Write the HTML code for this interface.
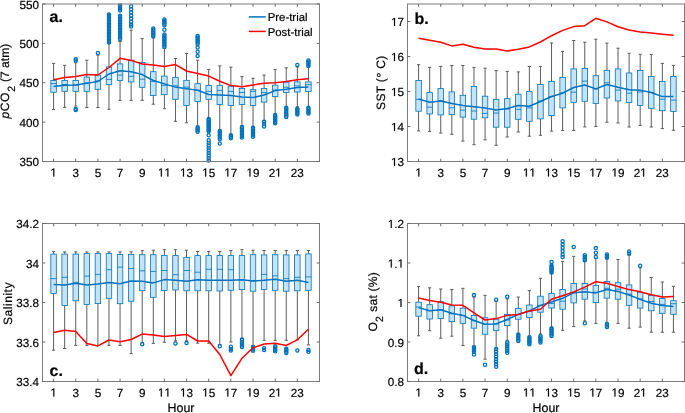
<!DOCTYPE html>
<html><head><meta charset="utf-8"><style>
html,body{margin:0;padding:0;background:#fff;}
svg{display:block;will-change:transform;}
svg{font-family:"Liberation Sans", sans-serif;font-size:11.7px;text-rendering:geometricPrecision;}
text{stroke:#000;stroke-width:0.2px;}
</style></head><body>
<svg width="685" height="413" viewBox="0 0 685 413">
<path d="M53.58 63.4V80.4M53.58 92.3V109.6M51.98 63.4H55.18M51.98 109.6H55.18M64.66 65.3V80.4M64.66 91.3V107.4M63.06 65.3H66.26M63.06 107.4H66.26M75.74 62.7V80.4M75.74 91.3V106M74.14 62.7H77.34M74.14 106H77.34M86.82 60.2V77.1M86.82 91.3V107.5M85.22 60.2H88.42M85.22 107.5H88.42M97.9 55V75.1M97.9 89.3V107.5M96.3 55H99.5M96.3 107.5H99.5M108.98 43V66.9M108.98 84.5V109.3M107.38 43H110.58M107.38 109.3H110.58M120.06 41.5V63.9M120.06 80.5V100.3M118.46 41.5H121.66M118.46 100.3H121.66M131.14 30.2V60.2M131.14 81.9V100.3M129.54 30.2H132.74M129.54 100.3H132.74M142.22 38.6V62.4M142.22 87.3V100.3M140.62 38.6H143.82M140.62 100.3H143.82M153.3 37.6V71.7M153.3 95.4V104.2M151.7 37.6H154.9M151.7 104.2H154.9M164.38 48.3V76.1M164.38 94.7V108.7M162.78 48.3H165.98M162.78 108.7H165.98M175.46 58.5V77.3M175.46 99.3V121.3M173.86 58.5H177.06M173.86 121.3H177.06M186.54 53.4V80.3M186.54 105.4V122.8M184.94 53.4H188.14M184.94 122.8H188.14M197.62 60.2V83.7M197.62 101.5V126.3M196.02 60.2H199.22M196.02 126.3H199.22M208.7 69.4V85.4M208.7 99.3V118M207.1 69.4H210.3M207.1 118H210.3M219.78 65.9V85.4M219.78 104.4V130M218.18 65.9H221.38M218.18 130H221.38M230.86 67.1V86.3M230.86 105.4V134.5M229.26 67.1H232.46M229.26 134.5H232.46M241.94 76.6V88.5M241.94 104.4V126.3M240.34 76.6H243.54M240.34 126.3H243.54M253.02 78.3V89.7M253.02 105.4V127M251.42 78.3H254.62M251.42 127H254.62M264.1 75V88.5M264.1 102.1V121M262.5 75H265.7M262.5 121H265.7M275.18 69.6V85.2M275.18 96.5V114.3M273.58 69.6H276.78M273.58 114.3H276.78M286.26 67.8V82.2M286.26 92.4V106.8M284.66 67.8H287.86M284.66 106.8H287.86M297.34 66.9V81.9M297.34 92V106.8M295.74 66.9H298.94M295.74 106.8H298.94M308.42 66.9V81.9M308.42 91.5V106.8M306.82 66.9H310.02M306.82 106.8H310.02" stroke="#5c5c5c" stroke-width="1" fill="none"/>
<rect x="50.83" y="80.4" width="5.5" height="11.9" fill="#C6E2F5" stroke="#0072BD" stroke-width="0.8"/>
<rect x="61.91" y="80.4" width="5.5" height="10.9" fill="#C6E2F5" stroke="#0072BD" stroke-width="0.8"/>
<rect x="72.99" y="80.4" width="5.5" height="10.9" fill="#C6E2F5" stroke="#0072BD" stroke-width="0.8"/>
<rect x="84.07" y="77.1" width="5.5" height="14.2" fill="#C6E2F5" stroke="#0072BD" stroke-width="0.8"/>
<rect x="95.15" y="75.1" width="5.5" height="14.2" fill="#C6E2F5" stroke="#0072BD" stroke-width="0.8"/>
<rect x="106.23" y="66.9" width="5.5" height="17.6" fill="#C6E2F5" stroke="#0072BD" stroke-width="0.8"/>
<rect x="117.31" y="63.9" width="5.5" height="16.6" fill="#C6E2F5" stroke="#0072BD" stroke-width="0.8"/>
<rect x="128.39" y="60.2" width="5.5" height="21.7" fill="#C6E2F5" stroke="#0072BD" stroke-width="0.8"/>
<rect x="139.47" y="62.4" width="5.5" height="24.9" fill="#C6E2F5" stroke="#0072BD" stroke-width="0.8"/>
<rect x="150.55" y="71.7" width="5.5" height="23.7" fill="#C6E2F5" stroke="#0072BD" stroke-width="0.8"/>
<rect x="161.63" y="76.1" width="5.5" height="18.6" fill="#C6E2F5" stroke="#0072BD" stroke-width="0.8"/>
<rect x="172.71" y="77.3" width="5.5" height="22" fill="#C6E2F5" stroke="#0072BD" stroke-width="0.8"/>
<rect x="183.79" y="80.3" width="5.5" height="25.1" fill="#C6E2F5" stroke="#0072BD" stroke-width="0.8"/>
<rect x="194.87" y="83.7" width="5.5" height="17.8" fill="#C6E2F5" stroke="#0072BD" stroke-width="0.8"/>
<rect x="205.95" y="85.4" width="5.5" height="13.9" fill="#C6E2F5" stroke="#0072BD" stroke-width="0.8"/>
<rect x="217.03" y="85.4" width="5.5" height="19" fill="#C6E2F5" stroke="#0072BD" stroke-width="0.8"/>
<rect x="228.11" y="86.3" width="5.5" height="19.1" fill="#C6E2F5" stroke="#0072BD" stroke-width="0.8"/>
<rect x="239.19" y="88.5" width="5.5" height="15.9" fill="#C6E2F5" stroke="#0072BD" stroke-width="0.8"/>
<rect x="250.27" y="89.7" width="5.5" height="15.7" fill="#C6E2F5" stroke="#0072BD" stroke-width="0.8"/>
<rect x="261.35" y="88.5" width="5.5" height="13.6" fill="#C6E2F5" stroke="#0072BD" stroke-width="0.8"/>
<rect x="272.43" y="85.2" width="5.5" height="11.3" fill="#C6E2F5" stroke="#0072BD" stroke-width="0.8"/>
<rect x="283.51" y="82.2" width="5.5" height="10.2" fill="#C6E2F5" stroke="#0072BD" stroke-width="0.8"/>
<rect x="294.59" y="81.9" width="5.5" height="10.1" fill="#C6E2F5" stroke="#0072BD" stroke-width="0.8"/>
<rect x="305.67" y="81.9" width="5.5" height="9.6" fill="#C6E2F5" stroke="#0072BD" stroke-width="0.8"/>
<path d="M50.83 83.6H56.33M61.91 84.5H67.41M72.99 85H78.49M84.07 83H89.57M95.15 80.9H100.65M106.23 79.4H111.73M117.31 75.1H122.81M128.39 76.3H133.89M139.47 79.2H144.97M150.55 81.4H156.05M161.63 85.4H167.13M172.71 85.8H178.21M183.79 87.1H189.29M194.87 90.2H200.37M205.95 91.4H211.45M217.03 90.4H222.53M228.11 91.4H233.61M239.19 92.5H244.69M250.27 91.4H255.77M261.35 92.5H266.85M272.43 90H277.93M283.51 87.3H289.01M294.59 85.9H300.09M305.67 84.7H311.17" stroke="#0072BD" stroke-width="0.8" fill="none"/>
<g fill="none" stroke="#0072BD" stroke-width="1.3"><circle cx="75.74" cy="59.3" r="1.6"/><circle cx="75.74" cy="60.5" r="1.6"/><circle cx="75.74" cy="108.9" r="1.6"/><circle cx="75.74" cy="110" r="1.6"/><circle cx="97.9" cy="52.9" r="1.6"/><circle cx="108.98" cy="14.6" r="1.6"/><circle cx="108.98" cy="16.06" r="1.6"/><circle cx="108.98" cy="17.53" r="1.6"/><circle cx="108.98" cy="18.99" r="1.6"/><circle cx="108.98" cy="20.45" r="1.6"/><circle cx="108.98" cy="21.92" r="1.6"/><circle cx="108.98" cy="23.38" r="1.6"/><circle cx="108.98" cy="24.84" r="1.6"/><circle cx="108.98" cy="26.31" r="1.6"/><circle cx="108.98" cy="27.77" r="1.6"/><circle cx="108.98" cy="29.23" r="1.6"/><circle cx="108.98" cy="30.69" r="1.6"/><circle cx="108.98" cy="32.16" r="1.6"/><circle cx="108.98" cy="33.62" r="1.6"/><circle cx="108.98" cy="35.08" r="1.6"/><circle cx="108.98" cy="36.55" r="1.6"/><circle cx="108.98" cy="38.01" r="1.6"/><circle cx="108.98" cy="39.47" r="1.6"/><circle cx="108.98" cy="40.94" r="1.6"/><circle cx="108.98" cy="42.4" r="1.6"/><circle cx="120.06" cy="5.4" r="1.6"/><circle cx="120.06" cy="7.13" r="1.6"/><circle cx="120.06" cy="8.87" r="1.6"/><circle cx="120.06" cy="10.6" r="1.6"/><circle cx="120.06" cy="15.8" r="1.6"/><circle cx="120.06" cy="17.35" r="1.6"/><circle cx="120.06" cy="18.89" r="1.6"/><circle cx="120.06" cy="20.44" r="1.6"/><circle cx="120.06" cy="21.99" r="1.6"/><circle cx="120.06" cy="23.53" r="1.6"/><circle cx="120.06" cy="25.08" r="1.6"/><circle cx="120.06" cy="26.63" r="1.6"/><circle cx="120.06" cy="28.17" r="1.6"/><circle cx="120.06" cy="29.72" r="1.6"/><circle cx="120.06" cy="31.27" r="1.6"/><circle cx="120.06" cy="32.81" r="1.6"/><circle cx="120.06" cy="34.36" r="1.6"/><circle cx="120.06" cy="35.91" r="1.6"/><circle cx="120.06" cy="37.45" r="1.6"/><circle cx="120.06" cy="39" r="1.6"/><circle cx="131.14" cy="6.3" r="1.6"/><circle cx="131.14" cy="9.2" r="1.6"/><circle cx="131.14" cy="12.4" r="1.6"/><circle cx="131.14" cy="15.8" r="1.6"/><circle cx="131.14" cy="18.6" r="1.6"/><circle cx="131.14" cy="21.7" r="1.6"/><circle cx="131.14" cy="24.5" r="1.6"/><circle cx="131.14" cy="26.6" r="1.6"/><circle cx="153.3" cy="28.5" r="1.6"/><circle cx="153.3" cy="30.08" r="1.6"/><circle cx="153.3" cy="31.66" r="1.6"/><circle cx="153.3" cy="33.24" r="1.6"/><circle cx="153.3" cy="34.82" r="1.6"/><circle cx="153.3" cy="36.4" r="1.6"/><circle cx="164.38" cy="19.5" r="1.6"/><circle cx="164.38" cy="20.93" r="1.6"/><circle cx="164.38" cy="22.35" r="1.6"/><circle cx="164.38" cy="23.77" r="1.6"/><circle cx="164.38" cy="25.2" r="1.6"/><circle cx="164.38" cy="29.7" r="1.6"/><circle cx="164.38" cy="34.6" r="1.6"/><circle cx="164.38" cy="36.15" r="1.6"/><circle cx="164.38" cy="37.7" r="1.6"/><circle cx="164.38" cy="39.25" r="1.6"/><circle cx="164.38" cy="40.8" r="1.6"/><circle cx="164.38" cy="42.35" r="1.6"/><circle cx="164.38" cy="43.9" r="1.6"/><circle cx="164.38" cy="45.45" r="1.6"/><circle cx="164.38" cy="47" r="1.6"/><circle cx="197.62" cy="36" r="1.6"/><circle cx="197.62" cy="37.62" r="1.6"/><circle cx="197.62" cy="39.24" r="1.6"/><circle cx="197.62" cy="40.86" r="1.6"/><circle cx="197.62" cy="42.48" r="1.6"/><circle cx="197.62" cy="44.1" r="1.6"/><circle cx="197.62" cy="47.5" r="1.6"/><circle cx="197.62" cy="51.7" r="1.6"/><circle cx="197.62" cy="55.9" r="1.6"/><circle cx="197.62" cy="127.3" r="1.6"/><circle cx="197.62" cy="128.8" r="1.6"/><circle cx="197.62" cy="130.3" r="1.6"/><circle cx="197.62" cy="131.8" r="1.6"/><circle cx="208.7" cy="119" r="1.6"/><circle cx="208.7" cy="120.22" r="1.6"/><circle cx="208.7" cy="121.44" r="1.6"/><circle cx="208.7" cy="122.66" r="1.6"/><circle cx="208.7" cy="123.88" r="1.6"/><circle cx="208.7" cy="125.1" r="1.6"/><circle cx="208.7" cy="126.32" r="1.6"/><circle cx="208.7" cy="127.54" r="1.6"/><circle cx="208.7" cy="128.76" r="1.6"/><circle cx="208.7" cy="129.98" r="1.6"/><circle cx="208.7" cy="131.2" r="1.6"/><circle cx="208.7" cy="135.2" r="1.6"/><circle cx="208.7" cy="140.3" r="1.6"/><circle cx="208.7" cy="143" r="1.6"/><circle cx="208.7" cy="145.5" r="1.6"/><circle cx="208.7" cy="148" r="1.6"/><circle cx="208.7" cy="150.5" r="1.6"/><circle cx="208.7" cy="153" r="1.6"/><circle cx="208.7" cy="155.5" r="1.6"/><circle cx="208.7" cy="158" r="1.6"/><circle cx="208.7" cy="160.5" r="1.6"/><circle cx="219.78" cy="131" r="1.6"/><circle cx="219.78" cy="132.6" r="1.6"/><circle cx="219.78" cy="134.2" r="1.6"/><circle cx="219.78" cy="135.8" r="1.6"/><circle cx="219.78" cy="137.4" r="1.6"/><circle cx="219.78" cy="139" r="1.6"/><circle cx="219.78" cy="143.5" r="1.6"/><circle cx="230.86" cy="135.3" r="1.6"/><circle cx="230.86" cy="136.8" r="1.6"/><circle cx="230.86" cy="138.3" r="1.6"/><circle cx="241.94" cy="127" r="1.6"/><circle cx="241.94" cy="128.5" r="1.6"/><circle cx="241.94" cy="130" r="1.6"/><circle cx="241.94" cy="131.5" r="1.6"/><circle cx="241.94" cy="133" r="1.6"/><circle cx="241.94" cy="134.5" r="1.6"/><circle cx="241.94" cy="136" r="1.6"/><circle cx="241.94" cy="137.5" r="1.6"/><circle cx="253.02" cy="127.8" r="1.6"/><circle cx="253.02" cy="129.3" r="1.6"/><circle cx="253.02" cy="130.8" r="1.6"/><circle cx="253.02" cy="132.3" r="1.6"/><circle cx="253.02" cy="133.8" r="1.6"/><circle cx="253.02" cy="135.3" r="1.6"/><circle cx="253.02" cy="136.8" r="1.6"/><circle cx="264.1" cy="121.8" r="1.6"/><circle cx="264.1" cy="124" r="1.6"/><circle cx="264.1" cy="126.5" r="1.6"/><circle cx="275.18" cy="115" r="1.6"/><circle cx="275.18" cy="116.38" r="1.6"/><circle cx="275.18" cy="117.77" r="1.6"/><circle cx="275.18" cy="119.15" r="1.6"/><circle cx="275.18" cy="120.53" r="1.6"/><circle cx="275.18" cy="121.92" r="1.6"/><circle cx="275.18" cy="123.3" r="1.6"/><circle cx="286.26" cy="107.8" r="1.6"/><circle cx="286.26" cy="109.33" r="1.6"/><circle cx="286.26" cy="110.87" r="1.6"/><circle cx="286.26" cy="112.4" r="1.6"/><circle cx="286.26" cy="113.93" r="1.6"/><circle cx="286.26" cy="115.47" r="1.6"/><circle cx="286.26" cy="117" r="1.6"/><circle cx="297.34" cy="64.9" r="1.6"/><circle cx="297.34" cy="108.7" r="1.6"/><circle cx="297.34" cy="110.12" r="1.6"/><circle cx="297.34" cy="111.55" r="1.6"/><circle cx="297.34" cy="112.98" r="1.6"/><circle cx="297.34" cy="114.4" r="1.6"/><circle cx="308.42" cy="60.4" r="1.6"/><circle cx="308.42" cy="61.82" r="1.6"/><circle cx="308.42" cy="63.25" r="1.6"/><circle cx="308.42" cy="64.67" r="1.6"/><circle cx="308.42" cy="66.1" r="1.6"/><circle cx="308.42" cy="107.8" r="1.6"/><circle cx="308.42" cy="109.25" r="1.6"/><circle cx="308.42" cy="110.7" r="1.6"/><circle cx="308.42" cy="112.15" r="1.6"/><circle cx="308.42" cy="113.6" r="1.6"/></g>
<polyline points="53.58,86.5 64.66,85.3 75.74,85 86.82,83.3 97.9,81.5 108.98,74 120.06,70.7 131.14,71.7 142.22,74.6 153.3,80.5 164.38,83.9 175.46,87.1 186.54,88.8 197.62,90.3 208.7,94.5 219.78,95.1 230.86,95.6 241.94,97 253.02,97.6 264.1,95 275.18,90.6 286.26,89.3 297.34,87.6 308.42,86.9" fill="none" stroke="#0072BD" stroke-width="1.5" stroke-linejoin="round"/>
<polyline points="53.58,79.8 64.66,77.6 75.74,76.6 86.82,74.4 97.9,75 108.98,67.5 120.06,58.3 131.14,60.4 142.22,64 153.3,65 164.38,66.5 175.46,64.6 186.54,71 197.62,73.6 208.7,76.1 219.78,81.2 230.86,85.6 241.94,86.8 253.02,85 264.1,83.3 275.18,82.8 286.26,81.4 297.34,79.7 308.42,78.8" fill="none" stroke="#FF0000" stroke-width="1.5" stroke-linejoin="round"/>
<rect x="42.5" y="4.0" width="277.0" height="157.5" fill="none" stroke="#7c7c7c" stroke-width="1"/>
<path d="M53.58 161.5v-2.8M53.58 4v2.8M75.74 161.5v-2.8M75.74 4v2.8M97.9 161.5v-2.8M97.9 4v2.8M120.06 161.5v-2.8M120.06 4v2.8M142.22 161.5v-2.8M142.22 4v2.8M164.38 161.5v-2.8M164.38 4v2.8M186.54 161.5v-2.8M186.54 4v2.8M208.7 161.5v-2.8M208.7 4v2.8M230.86 161.5v-2.8M230.86 4v2.8M253.02 161.5v-2.8M253.02 4v2.8M275.18 161.5v-2.8M275.18 4v2.8M297.34 161.5v-2.8M297.34 4v2.8M42.5 161.5h2.8M319.5 161.5h-2.8M42.5 122.12h2.8M319.5 122.12h-2.8M42.5 82.75h2.8M319.5 82.75h-2.8M42.5 43.38h2.8M319.5 43.38h-2.8M42.5 4h2.8M319.5 4h-2.8" stroke="#6a6a6a" stroke-width="1"/>
<text x="72.49" y="176.5">3</text>
<text x="94.65" y="176.5">5</text>
<text x="116.81" y="176.5">7</text>
<text x="138.97" y="176.5">9</text>
<text x="186.54" y="176.5">3</text>
<text x="208.7" y="176.5">5</text>
<text x="230.86" y="176.5">7</text>
<text x="253.02" y="176.5">9</text>
<text x="268.67" y="176.5">2</text>
<text x="290.83 297.34" y="176.5">23</text>
<text x="19.53 26.04 32.54" y="166">350</text>
<text x="19.53 26.04 32.54" y="126.62">400</text>
<text x="19.53 26.04 32.54" y="87.25">450</text>
<text x="19.53 26.04 32.54" y="47.88">500</text>
<text x="19.53 26.04 32.54" y="8.5">550</text>
<path d="M418.58 64.7V80.4M418.58 111.2V130.9M416.98 64.7H420.18M416.98 130.9H420.18M429.66 67.4V92.6M429.66 114V131.4M428.06 67.4H431.26M428.06 131.4H431.26M440.74 66.4V88.6M440.74 114.9V133.1M439.14 66.4H442.34M439.14 133.1H442.34M451.82 65.5V91.9M451.82 114.4V134.3M450.22 65.5H453.42M450.22 134.3H453.42M462.9 65.5V95.3M462.9 117.1V141.1M461.3 65.5H464.5M461.3 141.1H464.5M473.98 67.4V86.4M473.98 119.2V144.7M472.38 67.4H475.58M472.38 144.7H475.58M485.06 68.2V96.2M485.06 117.8V139.9M483.46 68.2H486.66M483.46 139.9H486.66M496.14 70.6V99.5M496.14 127.2V145.3M494.54 70.6H497.74M494.54 145.3H497.74M507.22 71.4V98.7M507.22 127.2V137M505.62 71.4H508.82M505.62 137H508.82M518.3 71.9V94.2M518.3 119.3V132M516.7 71.9H519.9M516.7 132H519.9M529.38 66.5V91.6M529.38 121.3V136.2M527.78 66.5H530.98M527.78 136.2H530.98M540.46 66.4V84.4M540.46 118.9V135.3M538.86 66.4H542.06M538.86 135.3H542.06M551.54 43V81.4M551.54 115.5V131.1M549.94 43H553.14M549.94 131.1H553.14M562.62 51.4V77.5M562.62 107.9V130.4M561.02 51.4H564.22M561.02 130.4H564.22M573.7 40.5V68.9M573.7 102.3V130.4M572.1 40.5H575.3M572.1 130.4H575.3M584.78 42.2V68.4M584.78 101.3V126.9M583.18 42.2H586.38M583.18 126.9H586.38M595.86 39.2V75.7M595.86 103.4V126.5M594.26 39.2H597.46M594.26 126.5H597.46M606.94 43.1V70.3M606.94 98V122.3M605.34 43.1H608.54M605.34 122.3H608.54M618.02 48.2V68.9M618.02 100.9V123M616.42 48.2H619.62M616.42 123H619.62M629.1 53.3V73M629.1 102.4V127M627.5 53.3H630.7M627.5 127H630.7M640.18 54.3V70.4M640.18 105.5V125.5M638.58 54.3H641.78M638.58 125.5H641.78M651.26 54.4V76.4M651.26 108.3V127M649.66 54.4H652.86M649.66 127H652.86M662.34 63.4V81.5M662.34 110.7V128.6M660.74 63.4H663.94M660.74 128.6H663.94M673.42 65.4V76.4M673.42 111.5V130.3M671.82 65.4H675.02M671.82 130.3H675.02" stroke="#5c5c5c" stroke-width="1" fill="none"/>
<rect x="415.83" y="80.4" width="5.5" height="30.8" fill="#C6E2F5" stroke="#0072BD" stroke-width="0.8"/>
<rect x="426.91" y="92.6" width="5.5" height="21.4" fill="#C6E2F5" stroke="#0072BD" stroke-width="0.8"/>
<rect x="437.99" y="88.6" width="5.5" height="26.3" fill="#C6E2F5" stroke="#0072BD" stroke-width="0.8"/>
<rect x="449.07" y="91.9" width="5.5" height="22.5" fill="#C6E2F5" stroke="#0072BD" stroke-width="0.8"/>
<rect x="460.15" y="95.3" width="5.5" height="21.8" fill="#C6E2F5" stroke="#0072BD" stroke-width="0.8"/>
<rect x="471.23" y="86.4" width="5.5" height="32.8" fill="#C6E2F5" stroke="#0072BD" stroke-width="0.8"/>
<rect x="482.31" y="96.2" width="5.5" height="21.6" fill="#C6E2F5" stroke="#0072BD" stroke-width="0.8"/>
<rect x="493.39" y="99.5" width="5.5" height="27.7" fill="#C6E2F5" stroke="#0072BD" stroke-width="0.8"/>
<rect x="504.47" y="98.7" width="5.5" height="28.5" fill="#C6E2F5" stroke="#0072BD" stroke-width="0.8"/>
<rect x="515.55" y="94.2" width="5.5" height="25.1" fill="#C6E2F5" stroke="#0072BD" stroke-width="0.8"/>
<rect x="526.63" y="91.6" width="5.5" height="29.7" fill="#C6E2F5" stroke="#0072BD" stroke-width="0.8"/>
<rect x="537.71" y="84.4" width="5.5" height="34.5" fill="#C6E2F5" stroke="#0072BD" stroke-width="0.8"/>
<rect x="548.79" y="81.4" width="5.5" height="34.1" fill="#C6E2F5" stroke="#0072BD" stroke-width="0.8"/>
<rect x="559.87" y="77.5" width="5.5" height="30.4" fill="#C6E2F5" stroke="#0072BD" stroke-width="0.8"/>
<rect x="570.95" y="68.9" width="5.5" height="33.4" fill="#C6E2F5" stroke="#0072BD" stroke-width="0.8"/>
<rect x="582.03" y="68.4" width="5.5" height="32.9" fill="#C6E2F5" stroke="#0072BD" stroke-width="0.8"/>
<rect x="593.11" y="75.7" width="5.5" height="27.7" fill="#C6E2F5" stroke="#0072BD" stroke-width="0.8"/>
<rect x="604.19" y="70.3" width="5.5" height="27.7" fill="#C6E2F5" stroke="#0072BD" stroke-width="0.8"/>
<rect x="615.27" y="68.9" width="5.5" height="32" fill="#C6E2F5" stroke="#0072BD" stroke-width="0.8"/>
<rect x="626.35" y="73" width="5.5" height="29.4" fill="#C6E2F5" stroke="#0072BD" stroke-width="0.8"/>
<rect x="637.43" y="70.4" width="5.5" height="35.1" fill="#C6E2F5" stroke="#0072BD" stroke-width="0.8"/>
<rect x="648.51" y="76.4" width="5.5" height="31.9" fill="#C6E2F5" stroke="#0072BD" stroke-width="0.8"/>
<rect x="659.59" y="81.5" width="5.5" height="29.2" fill="#C6E2F5" stroke="#0072BD" stroke-width="0.8"/>
<rect x="670.67" y="76.4" width="5.5" height="35.1" fill="#C6E2F5" stroke="#0072BD" stroke-width="0.8"/>
<path d="M415.83 99.4H421.33M426.91 107.2H432.41M437.99 100.8H443.49M449.07 107.8H454.57M460.15 110.2H465.65M471.23 111H476.73M482.31 113.4H487.81M493.39 113H498.89M504.47 109H509.97M515.55 109.3H521.05M526.63 107.9H532.13M537.71 101H543.21M548.79 96.5H554.29M559.87 92.8H565.37M570.95 92.2H576.45M582.03 81.1H587.53M593.11 88.9H598.61M604.19 82.8H609.69M615.27 90.1H620.77M626.35 93.2H631.85M637.43 92H642.93M648.51 92.5H654.01M659.59 99.2H665.09M670.67 100.1H676.17" stroke="#0072BD" stroke-width="0.8" fill="none"/>
<polyline points="418.58,99 429.66,102.3 440.74,100.9 451.82,103.4 462.9,105.4 473.98,106.8 485.06,108 496.14,110 507.22,108.5 518.3,105.5 529.38,106.2 540.46,101.5 551.54,96.5 562.62,93.2 573.7,87.5 584.78,85 595.86,88.9 606.94,84.5 618.02,87.3 629.1,89.8 640.18,90.3 651.26,92.5 662.34,96.6 673.42,96.6" fill="none" stroke="#0072BD" stroke-width="1.5" stroke-linejoin="round"/>
<polyline points="418.58,38.3 429.66,40.2 440.74,42.2 451.82,45.9 462.9,44.2 473.98,47.3 485.06,48.9 496.14,48.9 507.22,51 518.3,49.3 529.38,46.9 540.46,42 551.54,35.7 562.62,30.4 573.7,26.6 584.78,25.7 595.86,18.3 606.94,21.9 618.02,26.8 629.1,30 640.18,32.1 651.26,32.9 662.34,34.2 673.42,35.3" fill="none" stroke="#FF0000" stroke-width="1.5" stroke-linejoin="round"/>
<rect x="407.5" y="4.0" width="277.0" height="157.5" fill="none" stroke="#7c7c7c" stroke-width="1"/>
<path d="M418.58 161.5v-2.8M418.58 4v2.8M440.74 161.5v-2.8M440.74 4v2.8M462.9 161.5v-2.8M462.9 4v2.8M485.06 161.5v-2.8M485.06 4v2.8M507.22 161.5v-2.8M507.22 4v2.8M529.38 161.5v-2.8M529.38 4v2.8M551.54 161.5v-2.8M551.54 4v2.8M573.7 161.5v-2.8M573.7 4v2.8M595.86 161.5v-2.8M595.86 4v2.8M618.02 161.5v-2.8M618.02 4v2.8M640.18 161.5v-2.8M640.18 4v2.8M662.34 161.5v-2.8M662.34 4v2.8M407.5 161.5h2.8M684.5 161.5h-2.8M407.5 126.5h2.8M684.5 126.5h-2.8M407.5 91.5h2.8M684.5 91.5h-2.8M407.5 56.5h2.8M684.5 56.5h-2.8M407.5 21.5h2.8M684.5 21.5h-2.8" stroke="#6a6a6a" stroke-width="1"/>
<text x="437.49" y="176.5">3</text>
<text x="459.65" y="176.5">5</text>
<text x="481.81" y="176.5">7</text>
<text x="503.97" y="176.5">9</text>
<text x="551.54" y="176.5">3</text>
<text x="573.7" y="176.5">5</text>
<text x="595.86" y="176.5">7</text>
<text x="618.02" y="176.5">9</text>
<text x="633.67" y="176.5">2</text>
<text x="655.83 662.34" y="176.5">23</text>
<text x="397.54" y="166">3</text>
<text x="397.54" y="131">4</text>
<text x="397.54" y="96">5</text>
<text x="397.54" y="61">6</text>
<text x="397.54" y="26">7</text>
<path d="M53.58 251.4V254.1M53.58 293.4V350.2M51.98 251.4H55.18M51.98 350.2H55.18M64.66 251.9V254.1M64.66 305.4V348.5M63.06 251.9H66.26M63.06 348.5H66.26M75.74 251.9V254.1M75.74 300.8V345.4M74.14 251.9H77.34M74.14 345.4H77.34M86.82 251.9V253.6M86.82 304.4V345.4M85.22 251.9H88.42M85.22 345.4H88.42M97.9 251.9V253.6M97.9 303.6V345.5M96.3 251.9H99.5M96.3 345.5H99.5M108.98 251.9V253.6M108.98 298.3V345.4M107.38 251.9H110.58M107.38 345.4H110.58M120.06 251.9V254.4M120.06 303.7V345.4M118.46 251.9H121.66M118.46 345.4H121.66M131.14 251.9V254.4M131.14 301.2V353.6M129.54 251.9H132.74M129.54 353.6H132.74M142.22 250.7V254.7M142.22 290.4V342.5M140.62 250.7H143.82M140.62 342.5H143.82M153.3 250.2V254.7M153.3 297.3V343.4M151.7 250.2H154.9M151.7 343.4H154.9M164.38 249.7V255.4M164.38 290.5V342.3M162.78 249.7H165.98M162.78 342.3H165.98M175.46 249.7V255.6M175.46 290V340.8M173.86 249.7H177.06M173.86 340.8H177.06M186.54 250.2V257.3M186.54 290.8V340.8M184.94 250.2H188.14M184.94 340.8H188.14M197.62 251.5V255.6M197.62 290.8V343.2M196.02 251.5H199.22M196.02 343.2H199.22M208.7 251.5V255.6M208.7 290.8V343.2M207.1 251.5H210.3M207.1 343.2H210.3M219.78 251.5V255.6M219.78 291V344.6M218.18 251.5H221.38M218.18 344.6H221.38M230.86 250.5V255.6M230.86 290.3V342M229.26 250.5H232.46M229.26 342H232.46M241.94 249.7V255.6M241.94 289.5V338.6M240.34 249.7H243.54M240.34 338.6H243.54M253.02 250.2V254.7M253.02 291.2V345.5M251.42 250.2H254.62M251.42 345.5H254.62M264.1 250.5V254.9M264.1 289.5V340.3M262.5 250.5H265.7M262.5 340.3H265.7M275.18 250.5V254.7M275.18 290.3V340.3M273.58 250.5H276.78M273.58 340.3H276.78M286.26 250.5V254.9M286.26 291.2V340.3M284.66 250.5H287.86M284.66 340.3H287.86M297.34 250.5V254.9M297.34 290.8V339.8M295.74 250.5H298.94M295.74 339.8H298.94M308.42 250.5V253.9M308.42 290.3V344.9M306.82 250.5H310.02M306.82 344.9H310.02" stroke="#5c5c5c" stroke-width="1" fill="none"/>
<rect x="50.83" y="254.1" width="5.5" height="39.3" fill="#C6E2F5" stroke="#0072BD" stroke-width="0.8"/>
<rect x="61.91" y="254.1" width="5.5" height="51.3" fill="#C6E2F5" stroke="#0072BD" stroke-width="0.8"/>
<rect x="72.99" y="254.1" width="5.5" height="46.7" fill="#C6E2F5" stroke="#0072BD" stroke-width="0.8"/>
<rect x="84.07" y="253.6" width="5.5" height="50.8" fill="#C6E2F5" stroke="#0072BD" stroke-width="0.8"/>
<rect x="95.15" y="253.6" width="5.5" height="50" fill="#C6E2F5" stroke="#0072BD" stroke-width="0.8"/>
<rect x="106.23" y="253.6" width="5.5" height="44.7" fill="#C6E2F5" stroke="#0072BD" stroke-width="0.8"/>
<rect x="117.31" y="254.4" width="5.5" height="49.3" fill="#C6E2F5" stroke="#0072BD" stroke-width="0.8"/>
<rect x="128.39" y="254.4" width="5.5" height="46.8" fill="#C6E2F5" stroke="#0072BD" stroke-width="0.8"/>
<rect x="139.47" y="254.7" width="5.5" height="35.7" fill="#C6E2F5" stroke="#0072BD" stroke-width="0.8"/>
<rect x="150.55" y="254.7" width="5.5" height="42.6" fill="#C6E2F5" stroke="#0072BD" stroke-width="0.8"/>
<rect x="161.63" y="255.4" width="5.5" height="35.1" fill="#C6E2F5" stroke="#0072BD" stroke-width="0.8"/>
<rect x="172.71" y="255.6" width="5.5" height="34.4" fill="#C6E2F5" stroke="#0072BD" stroke-width="0.8"/>
<rect x="183.79" y="257.3" width="5.5" height="33.5" fill="#C6E2F5" stroke="#0072BD" stroke-width="0.8"/>
<rect x="194.87" y="255.6" width="5.5" height="35.2" fill="#C6E2F5" stroke="#0072BD" stroke-width="0.8"/>
<rect x="205.95" y="255.6" width="5.5" height="35.2" fill="#C6E2F5" stroke="#0072BD" stroke-width="0.8"/>
<rect x="217.03" y="255.6" width="5.5" height="35.4" fill="#C6E2F5" stroke="#0072BD" stroke-width="0.8"/>
<rect x="228.11" y="255.6" width="5.5" height="34.7" fill="#C6E2F5" stroke="#0072BD" stroke-width="0.8"/>
<rect x="239.19" y="255.6" width="5.5" height="33.9" fill="#C6E2F5" stroke="#0072BD" stroke-width="0.8"/>
<rect x="250.27" y="254.7" width="5.5" height="36.5" fill="#C6E2F5" stroke="#0072BD" stroke-width="0.8"/>
<rect x="261.35" y="254.9" width="5.5" height="34.6" fill="#C6E2F5" stroke="#0072BD" stroke-width="0.8"/>
<rect x="272.43" y="254.7" width="5.5" height="35.6" fill="#C6E2F5" stroke="#0072BD" stroke-width="0.8"/>
<rect x="283.51" y="254.9" width="5.5" height="36.3" fill="#C6E2F5" stroke="#0072BD" stroke-width="0.8"/>
<rect x="294.59" y="254.9" width="5.5" height="35.9" fill="#C6E2F5" stroke="#0072BD" stroke-width="0.8"/>
<rect x="305.67" y="253.9" width="5.5" height="36.4" fill="#C6E2F5" stroke="#0072BD" stroke-width="0.8"/>
<path d="M50.83 278.6H56.33M61.91 277.3H67.41M72.99 282.4H78.49M84.07 276.1H89.57M95.15 274.4H100.65M106.23 269.7H111.73M117.31 267.1H122.81M128.39 268.5H133.89M139.47 270.8H144.97M150.55 271.4H156.05M161.63 270.5H167.13M172.71 274.7H178.21M183.79 270.5H189.29M194.87 272.2H200.37M205.95 269.3H211.45M217.03 269.3H222.53M228.11 269.7H233.61M239.19 279.8H244.69M250.27 280.7H255.77M261.35 274.4H266.85M272.43 275.8H277.93M283.51 278.6H289.01M294.59 277.3H300.09M305.67 276.9H311.17" stroke="#0072BD" stroke-width="0.8" fill="none"/>
<g fill="none" stroke="#0072BD" stroke-width="1.3"><circle cx="142.22" cy="344.2" r="1.6"/><circle cx="175.46" cy="343.4" r="1.6"/><circle cx="186.54" cy="343.1" r="1.6"/><circle cx="219.78" cy="346.3" r="1.6"/><circle cx="230.86" cy="346.7" r="1.6"/><circle cx="230.86" cy="348.9" r="1.6"/><circle cx="230.86" cy="350.6" r="1.6"/><circle cx="241.94" cy="339.6" r="1.6"/><circle cx="241.94" cy="341.8" r="1.6"/><circle cx="241.94" cy="343.5" r="1.6"/><circle cx="241.94" cy="345.5" r="1.6"/><circle cx="241.94" cy="347" r="1.6"/><circle cx="253.02" cy="347" r="1.6"/><circle cx="253.02" cy="348.3" r="1.6"/><circle cx="253.02" cy="349.5" r="1.6"/><circle cx="253.02" cy="350.8" r="1.6"/><circle cx="264.1" cy="348.3" r="1.6"/><circle cx="264.1" cy="350" r="1.6"/><circle cx="275.18" cy="346.2" r="1.6"/><circle cx="275.18" cy="347.5" r="1.6"/><circle cx="275.18" cy="348.8" r="1.6"/><circle cx="275.18" cy="350" r="1.6"/><circle cx="275.18" cy="351.2" r="1.6"/><circle cx="286.26" cy="348.8" r="1.6"/><circle cx="286.26" cy="350" r="1.6"/><circle cx="286.26" cy="351.5" r="1.6"/><circle cx="286.26" cy="352.9" r="1.6"/><circle cx="297.34" cy="350.5" r="1.6"/><circle cx="308.42" cy="350" r="1.6"/><circle cx="308.42" cy="351.7" r="1.6"/></g>
<polyline points="53.58,284.6 64.66,284.9 75.74,283.2 86.82,284.9 97.9,284.1 108.98,282.6 120.06,283.7 131.14,281 142.22,281.2 153.3,282.9 164.38,279.6 175.46,280.3 186.54,281.2 197.62,279.8 208.7,280.2 219.78,280.3 230.86,280.3 241.94,279.8 253.02,281 264.1,280.3 275.18,279.3 286.26,281.2 297.34,280.2 308.42,282.4" fill="none" stroke="#0072BD" stroke-width="1.5" stroke-linejoin="round"/>
<polyline points="53.58,332.4 64.66,330.3 75.74,331.5 86.82,343.4 97.9,345.9 108.98,340 120.06,341.7 131.14,339.5 142.22,334.1 153.3,334.9 164.38,336.6 175.46,335.4 186.54,334.4 197.62,341 208.7,341 219.78,354.5 230.86,375.6 241.94,358.3 253.02,347.8 264.1,344 275.18,343.3 286.26,345.4 297.34,339.8 308.42,329.3" fill="none" stroke="#FF0000" stroke-width="1.5" stroke-linejoin="round"/>
<rect x="42.5" y="223.5" width="277.0" height="158.0" fill="none" stroke="#7c7c7c" stroke-width="1"/>
<path d="M53.58 381.5v-2.8M53.58 223.5v2.8M75.74 381.5v-2.8M75.74 223.5v2.8M97.9 381.5v-2.8M97.9 223.5v2.8M120.06 381.5v-2.8M120.06 223.5v2.8M142.22 381.5v-2.8M142.22 223.5v2.8M164.38 381.5v-2.8M164.38 223.5v2.8M186.54 381.5v-2.8M186.54 223.5v2.8M208.7 381.5v-2.8M208.7 223.5v2.8M230.86 381.5v-2.8M230.86 223.5v2.8M253.02 381.5v-2.8M253.02 223.5v2.8M275.18 381.5v-2.8M275.18 223.5v2.8M297.34 381.5v-2.8M297.34 223.5v2.8M42.5 381.5h2.8M319.5 381.5h-2.8M42.5 342h2.8M319.5 342h-2.8M42.5 302.5h2.8M319.5 302.5h-2.8M42.5 263h2.8M319.5 263h-2.8M42.5 223.5h2.8M319.5 223.5h-2.8" stroke="#6a6a6a" stroke-width="1"/>
<text x="72.49" y="396.5">3</text>
<text x="94.65" y="396.5">5</text>
<text x="116.81" y="396.5">7</text>
<text x="138.97" y="396.5">9</text>
<text x="186.54" y="396.5">3</text>
<text x="208.7" y="396.5">5</text>
<text x="230.86" y="396.5">7</text>
<text x="253.02" y="396.5">9</text>
<text x="268.67" y="396.5">2</text>
<text x="290.83 297.34" y="396.5">23</text>
<text x="16.28 22.79 29.29 32.54" y="386">33.4</text>
<text x="16.28 22.79 29.29 32.54" y="346.5">33.6</text>
<text x="16.28 22.79 29.29 32.54" y="307">33.8</text>
<text x="26.04 32.54" y="267.5">34</text>
<text x="16.28 22.79 29.29 32.54" y="228">34.2</text>
<path d="M418.58 286.4V302.2M418.58 316.2V335.8M416.98 286.4H420.18M416.98 335.8H420.18M429.66 287.8V304.7M429.66 319V330.7M428.06 287.8H431.26M428.06 330.7H431.26M440.74 289V301.7M440.74 318.6V338.2M439.14 289H442.34M439.14 338.2H442.34M451.82 289.5V305.9M451.82 321.6V336.2M450.22 289.5H453.42M450.22 336.2H453.42M462.9 288.3V308.1M462.9 323.3V345.6M461.3 288.3H464.5M461.3 345.6H464.5M473.98 297.1V315.4M473.98 328.2V346.2M472.38 297.1H475.58M472.38 346.2H475.58M485.06 295.4V317.8M485.06 334.2V359.2M483.46 295.4H486.66M483.46 359.2H486.66M496.14 301.4V319.2M496.14 330.4V348.3M494.54 301.4H497.74M494.54 348.3H497.74M507.22 298.8V314.4M507.22 325.6V340.3M505.62 298.8H508.82M505.62 340.3H508.82M518.3 297.1V308.6M518.3 319.2V333.8M516.7 297.1H519.9M516.7 333.8H519.9M529.38 290.6V305M529.38 317.6V336.3M527.78 290.6H530.98M527.78 336.3H530.98M540.46 278.3V296.2M540.46 312.2V334M538.86 278.3H542.06M538.86 334H542.06M551.54 273.2V293.6M551.54 308V327.5M549.94 273.2H553.14M549.94 327.5H553.14M562.62 261.4V289.5M562.62 309.2V330.3M561.02 261.4H564.22M561.02 330.3H564.22M573.7 256.3V283.4M573.7 302.9V326.6M572.1 256.3H575.3M572.1 326.6H575.3M584.78 261.5V283.5M584.78 299.2V321M583.18 261.5H586.38M583.18 321H586.38M595.86 258.6V285.4M595.86 302.6V323.4M594.26 258.6H597.46M594.26 323.4H597.46M606.94 258.6V281.5M606.94 298.1V323M605.34 258.6H608.54M605.34 323H608.54M618.02 259.5V282.7M618.02 299.2V323.4M616.42 259.5H619.62M616.42 323.4H619.62M629.1 254.9V284.9M629.1 305.3V328.2M627.5 254.9H630.7M627.5 328.2H630.7M640.18 267.8V292.2M640.18 308.1V327.1M638.58 267.8H641.78M638.58 327.1H641.78M651.26 277.5V295.3M651.26 310.8V332.2M649.66 277.5H652.86M649.66 332.2H652.86M662.34 282V298.6M662.34 313.3V332.2M660.74 282H663.94M660.74 332.2H663.94M673.42 286.3V300.7M673.42 314.3V332.2M671.82 286.3H675.02M671.82 332.2H675.02" stroke="#5c5c5c" stroke-width="1" fill="none"/>
<rect x="415.83" y="302.2" width="5.5" height="14" fill="#C6E2F5" stroke="#0072BD" stroke-width="0.8"/>
<rect x="426.91" y="304.7" width="5.5" height="14.3" fill="#C6E2F5" stroke="#0072BD" stroke-width="0.8"/>
<rect x="437.99" y="301.7" width="5.5" height="16.9" fill="#C6E2F5" stroke="#0072BD" stroke-width="0.8"/>
<rect x="449.07" y="305.9" width="5.5" height="15.7" fill="#C6E2F5" stroke="#0072BD" stroke-width="0.8"/>
<rect x="460.15" y="308.1" width="5.5" height="15.2" fill="#C6E2F5" stroke="#0072BD" stroke-width="0.8"/>
<rect x="471.23" y="315.4" width="5.5" height="12.8" fill="#C6E2F5" stroke="#0072BD" stroke-width="0.8"/>
<rect x="482.31" y="317.8" width="5.5" height="16.4" fill="#C6E2F5" stroke="#0072BD" stroke-width="0.8"/>
<rect x="493.39" y="319.2" width="5.5" height="11.2" fill="#C6E2F5" stroke="#0072BD" stroke-width="0.8"/>
<rect x="504.47" y="314.4" width="5.5" height="11.2" fill="#C6E2F5" stroke="#0072BD" stroke-width="0.8"/>
<rect x="515.55" y="308.6" width="5.5" height="10.6" fill="#C6E2F5" stroke="#0072BD" stroke-width="0.8"/>
<rect x="526.63" y="305" width="5.5" height="12.6" fill="#C6E2F5" stroke="#0072BD" stroke-width="0.8"/>
<rect x="537.71" y="296.2" width="5.5" height="16" fill="#C6E2F5" stroke="#0072BD" stroke-width="0.8"/>
<rect x="548.79" y="293.6" width="5.5" height="14.4" fill="#C6E2F5" stroke="#0072BD" stroke-width="0.8"/>
<rect x="559.87" y="289.5" width="5.5" height="19.7" fill="#C6E2F5" stroke="#0072BD" stroke-width="0.8"/>
<rect x="570.95" y="283.4" width="5.5" height="19.5" fill="#C6E2F5" stroke="#0072BD" stroke-width="0.8"/>
<rect x="582.03" y="283.5" width="5.5" height="15.7" fill="#C6E2F5" stroke="#0072BD" stroke-width="0.8"/>
<rect x="593.11" y="285.4" width="5.5" height="17.2" fill="#C6E2F5" stroke="#0072BD" stroke-width="0.8"/>
<rect x="604.19" y="281.5" width="5.5" height="16.6" fill="#C6E2F5" stroke="#0072BD" stroke-width="0.8"/>
<rect x="615.27" y="282.7" width="5.5" height="16.5" fill="#C6E2F5" stroke="#0072BD" stroke-width="0.8"/>
<rect x="626.35" y="284.9" width="5.5" height="20.4" fill="#C6E2F5" stroke="#0072BD" stroke-width="0.8"/>
<rect x="637.43" y="292.2" width="5.5" height="15.9" fill="#C6E2F5" stroke="#0072BD" stroke-width="0.8"/>
<rect x="648.51" y="295.3" width="5.5" height="15.5" fill="#C6E2F5" stroke="#0072BD" stroke-width="0.8"/>
<rect x="659.59" y="298.6" width="5.5" height="14.7" fill="#C6E2F5" stroke="#0072BD" stroke-width="0.8"/>
<rect x="670.67" y="300.7" width="5.5" height="13.6" fill="#C6E2F5" stroke="#0072BD" stroke-width="0.8"/>
<path d="M415.83 307H421.33M426.91 310.7H432.41M437.99 309.8H443.49M449.07 313.7H454.57M460.15 315.4H465.65M471.23 320.8H476.73M482.31 324.2H487.81M493.39 323.9H498.89M504.47 320H509.97M515.55 314.4H521.05M526.63 311.4H532.13M537.71 305.4H543.21M548.79 303.4H554.29M559.87 301.2H565.37M570.95 292.7H576.45M582.03 289H587.53M593.11 292.2H598.61M604.19 288.3H609.69M615.27 289.2H620.77M626.35 294.2H631.85M637.43 298.8H642.93M648.51 301.5H654.01M659.59 304.4H665.09M670.67 303.7H676.17" stroke="#0072BD" stroke-width="0.8" fill="none"/>
<g fill="none" stroke="#0072BD" stroke-width="1.3"><circle cx="473.98" cy="295.1" r="1.6"/><circle cx="473.98" cy="347.3" r="1.6"/><circle cx="473.98" cy="348.7" r="1.6"/><circle cx="473.98" cy="350.1" r="1.6"/><circle cx="473.98" cy="351.5" r="1.6"/><circle cx="473.98" cy="354.6" r="1.6"/><circle cx="485.06" cy="364.7" r="1.6"/><circle cx="496.14" cy="299.7" r="1.6"/><circle cx="496.14" cy="349" r="1.6"/><circle cx="496.14" cy="351.54" r="1.6"/><circle cx="496.14" cy="354.09" r="1.6"/><circle cx="496.14" cy="356.63" r="1.6"/><circle cx="496.14" cy="359.17" r="1.6"/><circle cx="496.14" cy="361.71" r="1.6"/><circle cx="496.14" cy="364.26" r="1.6"/><circle cx="496.14" cy="366.8" r="1.6"/><circle cx="507.22" cy="296.8" r="1.6"/><circle cx="507.22" cy="342.5" r="1.6"/><circle cx="507.22" cy="344.54" r="1.6"/><circle cx="507.22" cy="346.58" r="1.6"/><circle cx="507.22" cy="348.62" r="1.6"/><circle cx="507.22" cy="350.66" r="1.6"/><circle cx="507.22" cy="352.7" r="1.6"/><circle cx="518.3" cy="334.5" r="1.6"/><circle cx="518.3" cy="336.12" r="1.6"/><circle cx="518.3" cy="337.75" r="1.6"/><circle cx="518.3" cy="339.38" r="1.6"/><circle cx="518.3" cy="341" r="1.6"/><circle cx="529.38" cy="337.2" r="1.6"/><circle cx="529.38" cy="338.6" r="1.6"/><circle cx="529.38" cy="340" r="1.6"/><circle cx="529.38" cy="341.4" r="1.6"/><circle cx="529.38" cy="342.8" r="1.6"/><circle cx="529.38" cy="344.2" r="1.6"/><circle cx="540.46" cy="335.9" r="1.6"/><circle cx="540.46" cy="337.52" r="1.6"/><circle cx="540.46" cy="339.15" r="1.6"/><circle cx="540.46" cy="340.77" r="1.6"/><circle cx="540.46" cy="342.4" r="1.6"/><circle cx="551.54" cy="261.9" r="1.6"/><circle cx="551.54" cy="265.6" r="1.6"/><circle cx="551.54" cy="266.96" r="1.6"/><circle cx="551.54" cy="268.32" r="1.6"/><circle cx="551.54" cy="269.68" r="1.6"/><circle cx="551.54" cy="271.04" r="1.6"/><circle cx="551.54" cy="272.4" r="1.6"/><circle cx="551.54" cy="328.3" r="1.6"/><circle cx="551.54" cy="329.82" r="1.6"/><circle cx="551.54" cy="331.34" r="1.6"/><circle cx="551.54" cy="332.86" r="1.6"/><circle cx="551.54" cy="334.38" r="1.6"/><circle cx="551.54" cy="335.9" r="1.6"/><circle cx="562.62" cy="241.2" r="1.6"/><circle cx="562.62" cy="244.5" r="1.6"/><circle cx="562.62" cy="247.8" r="1.6"/><circle cx="562.62" cy="251.1" r="1.6"/><circle cx="562.62" cy="254.4" r="1.6"/><circle cx="562.62" cy="257" r="1.6"/><circle cx="573.7" cy="247" r="1.6"/><circle cx="584.78" cy="255.3" r="1.6"/><circle cx="584.78" cy="256.97" r="1.6"/><circle cx="584.78" cy="258.63" r="1.6"/><circle cx="584.78" cy="260.3" r="1.6"/><circle cx="584.78" cy="323.3" r="1.6"/><circle cx="595.86" cy="248.1" r="1.6"/><circle cx="595.86" cy="252.7" r="1.6"/><circle cx="595.86" cy="256.9" r="1.6"/><circle cx="606.94" cy="254.4" r="1.6"/><circle cx="606.94" cy="256.1" r="1.6"/><circle cx="606.94" cy="257.8" r="1.6"/><circle cx="606.94" cy="323.9" r="1.6"/><circle cx="606.94" cy="325.45" r="1.6"/><circle cx="606.94" cy="327" r="1.6"/><circle cx="629.1" cy="251.5" r="1.6"/><circle cx="629.1" cy="253.6" r="1.6"/><circle cx="640.18" cy="265.8" r="1.6"/></g>
<polyline points="418.58,307.6 429.66,310.7 440.74,309.8 451.82,313.2 462.9,315.4 473.98,320.5 485.06,324.2 496.14,323.9 507.22,319.5 518.3,314.4 529.38,311 540.46,305.4 551.54,302 562.62,298.3 573.7,292.7 584.78,291.8 595.86,292.9 606.94,289.5 618.02,291.4 629.1,295 640.18,299.4 651.26,303.2 662.34,305.4 673.42,306.6" fill="none" stroke="#0072BD" stroke-width="1.5" stroke-linejoin="round"/>
<polyline points="418.58,298 429.66,300.5 440.74,302.2 451.82,305.1 462.9,305.3 473.98,312.8 485.06,320 496.14,318.6 507.22,315.4 518.3,314.4 529.38,311 540.46,309.2 551.54,299.3 562.62,295.7 573.7,291.9 584.78,287.1 595.86,281.8 606.94,283.2 618.02,286.5 629.1,289.6 640.18,291.7 651.26,294.7 662.34,297 673.42,296.4" fill="none" stroke="#FF0000" stroke-width="1.5" stroke-linejoin="round"/>
<rect x="407.5" y="223.5" width="277.0" height="158.0" fill="none" stroke="#7c7c7c" stroke-width="1"/>
<path d="M418.58 381.5v-2.8M418.58 223.5v2.8M440.74 381.5v-2.8M440.74 223.5v2.8M462.9 381.5v-2.8M462.9 223.5v2.8M485.06 381.5v-2.8M485.06 223.5v2.8M507.22 381.5v-2.8M507.22 223.5v2.8M529.38 381.5v-2.8M529.38 223.5v2.8M551.54 381.5v-2.8M551.54 223.5v2.8M573.7 381.5v-2.8M573.7 223.5v2.8M595.86 381.5v-2.8M595.86 223.5v2.8M618.02 381.5v-2.8M618.02 223.5v2.8M640.18 381.5v-2.8M640.18 223.5v2.8M662.34 381.5v-2.8M662.34 223.5v2.8M407.5 381.5h2.8M684.5 381.5h-2.8M407.5 342h2.8M684.5 342h-2.8M407.5 302.5h2.8M684.5 302.5h-2.8M407.5 263h2.8M684.5 263h-2.8M407.5 223.5h2.8M684.5 223.5h-2.8" stroke="#6a6a6a" stroke-width="1"/>
<text x="437.49" y="396.5">3</text>
<text x="459.65" y="396.5">5</text>
<text x="481.81" y="396.5">7</text>
<text x="503.97" y="396.5">9</text>
<text x="551.54" y="396.5">3</text>
<text x="573.7" y="396.5">5</text>
<text x="595.86" y="396.5">7</text>
<text x="618.02" y="396.5">9</text>
<text x="633.67" y="396.5">2</text>
<text x="655.83 662.34" y="396.5">23</text>
<text x="387.79 394.29 397.54" y="386">0.8</text>
<text x="387.79 394.29 397.54" y="346.5">0.9</text>
<text x="394.29" y="267.5">.</text>
<text x="394.29 397.54" y="228">.2</text>
<g fill="#000" stroke="#000" stroke-width="35"><path transform="matrix(0.005713 0 0 -0.005713 50.33 176.5)" d="M515 0V1237L197 1010V1180L530 1409H696V0Z"/><path transform="matrix(0.005713 0 0 -0.005713 157.87 176.5)" d="M515 0V1237L197 1010V1180L530 1409H696V0Z"/><path transform="matrix(0.005713 0 0 -0.005713 164.38 176.5)" d="M515 0V1237L197 1010V1180L530 1409H696V0Z"/><path transform="matrix(0.005713 0 0 -0.005713 180.03 176.5)" d="M515 0V1237L197 1010V1180L530 1409H696V0Z"/><path transform="matrix(0.005713 0 0 -0.005713 202.19 176.5)" d="M515 0V1237L197 1010V1180L530 1409H696V0Z"/><path transform="matrix(0.005713 0 0 -0.005713 224.35 176.5)" d="M515 0V1237L197 1010V1180L530 1409H696V0Z"/><path transform="matrix(0.005713 0 0 -0.005713 246.51 176.5)" d="M515 0V1237L197 1010V1180L530 1409H696V0Z"/><path transform="matrix(0.005713 0 0 -0.005713 275.18 176.5)" d="M515 0V1237L197 1010V1180L530 1409H696V0Z"/><path transform="matrix(0.005713 0 0 -0.005713 415.33 176.5)" d="M515 0V1237L197 1010V1180L530 1409H696V0Z"/><path transform="matrix(0.005713 0 0 -0.005713 522.87 176.5)" d="M515 0V1237L197 1010V1180L530 1409H696V0Z"/><path transform="matrix(0.005713 0 0 -0.005713 529.38 176.5)" d="M515 0V1237L197 1010V1180L530 1409H696V0Z"/><path transform="matrix(0.005713 0 0 -0.005713 545.03 176.5)" d="M515 0V1237L197 1010V1180L530 1409H696V0Z"/><path transform="matrix(0.005713 0 0 -0.005713 567.19 176.5)" d="M515 0V1237L197 1010V1180L530 1409H696V0Z"/><path transform="matrix(0.005713 0 0 -0.005713 589.35 176.5)" d="M515 0V1237L197 1010V1180L530 1409H696V0Z"/><path transform="matrix(0.005713 0 0 -0.005713 611.51 176.5)" d="M515 0V1237L197 1010V1180L530 1409H696V0Z"/><path transform="matrix(0.005713 0 0 -0.005713 640.18 176.5)" d="M515 0V1237L197 1010V1180L530 1409H696V0Z"/><path transform="matrix(0.005713 0 0 -0.005713 391.04 166)" d="M515 0V1237L197 1010V1180L530 1409H696V0Z"/><path transform="matrix(0.005713 0 0 -0.005713 391.04 131)" d="M515 0V1237L197 1010V1180L530 1409H696V0Z"/><path transform="matrix(0.005713 0 0 -0.005713 391.04 96)" d="M515 0V1237L197 1010V1180L530 1409H696V0Z"/><path transform="matrix(0.005713 0 0 -0.005713 391.04 61)" d="M515 0V1237L197 1010V1180L530 1409H696V0Z"/><path transform="matrix(0.005713 0 0 -0.005713 391.04 26)" d="M515 0V1237L197 1010V1180L530 1409H696V0Z"/><path transform="matrix(0.005713 0 0 -0.005713 50.33 396.5)" d="M515 0V1237L197 1010V1180L530 1409H696V0Z"/><path transform="matrix(0.005713 0 0 -0.005713 157.87 396.5)" d="M515 0V1237L197 1010V1180L530 1409H696V0Z"/><path transform="matrix(0.005713 0 0 -0.005713 164.38 396.5)" d="M515 0V1237L197 1010V1180L530 1409H696V0Z"/><path transform="matrix(0.005713 0 0 -0.005713 180.03 396.5)" d="M515 0V1237L197 1010V1180L530 1409H696V0Z"/><path transform="matrix(0.005713 0 0 -0.005713 202.19 396.5)" d="M515 0V1237L197 1010V1180L530 1409H696V0Z"/><path transform="matrix(0.005713 0 0 -0.005713 224.35 396.5)" d="M515 0V1237L197 1010V1180L530 1409H696V0Z"/><path transform="matrix(0.005713 0 0 -0.005713 246.51 396.5)" d="M515 0V1237L197 1010V1180L530 1409H696V0Z"/><path transform="matrix(0.005713 0 0 -0.005713 275.18 396.5)" d="M515 0V1237L197 1010V1180L530 1409H696V0Z"/><path transform="matrix(0.005713 0 0 -0.005713 415.33 396.5)" d="M515 0V1237L197 1010V1180L530 1409H696V0Z"/><path transform="matrix(0.005713 0 0 -0.005713 522.87 396.5)" d="M515 0V1237L197 1010V1180L530 1409H696V0Z"/><path transform="matrix(0.005713 0 0 -0.005713 529.38 396.5)" d="M515 0V1237L197 1010V1180L530 1409H696V0Z"/><path transform="matrix(0.005713 0 0 -0.005713 545.03 396.5)" d="M515 0V1237L197 1010V1180L530 1409H696V0Z"/><path transform="matrix(0.005713 0 0 -0.005713 567.19 396.5)" d="M515 0V1237L197 1010V1180L530 1409H696V0Z"/><path transform="matrix(0.005713 0 0 -0.005713 589.35 396.5)" d="M515 0V1237L197 1010V1180L530 1409H696V0Z"/><path transform="matrix(0.005713 0 0 -0.005713 611.51 396.5)" d="M515 0V1237L197 1010V1180L530 1409H696V0Z"/><path transform="matrix(0.005713 0 0 -0.005713 640.18 396.5)" d="M515 0V1237L197 1010V1180L530 1409H696V0Z"/><path transform="matrix(0.005713 0 0 -0.005713 397.54 307)" d="M515 0V1237L197 1010V1180L530 1409H696V0Z"/><path transform="matrix(0.005713 0 0 -0.005713 387.79 267.5)" d="M515 0V1237L197 1010V1180L530 1409H696V0Z"/><path transform="matrix(0.005713 0 0 -0.005713 397.54 267.5)" d="M515 0V1237L197 1010V1180L530 1409H696V0Z"/><path transform="matrix(0.005713 0 0 -0.005713 387.79 228)" d="M515 0V1237L197 1010V1180L530 1409H696V0Z"/></g>
<text x="181" y="412.2" text-anchor="middle" style="font-size:12.4px">Hour</text>
<text x="546" y="412.2" text-anchor="middle" style="font-size:12.4px">Hour</text>
<text transform="translate(9.4,0) rotate(-90)" style="font-size:12.1px"><tspan x="-118.4" style="font-style:italic;letter-spacing:0.5px">p</tspan><tspan style="letter-spacing:0.5px">CO</tspan><tspan style="font-size:10.5px" dy="6" dx="0.2">2</tspan><tspan dy="-6" dx="0.6"> (7 atm)</tspan></text>
<text transform="translate(385.4,82.65) rotate(-90)" text-anchor="middle" style="font-size:12.1px;letter-spacing:0.29px">SST (<tspan dy="0.9" style="font-size:13px">°</tspan><tspan dy="-0.9"> C)</tspan></text>
<text transform="translate(11.5,0) rotate(-90)" style="font-size:12.1px;letter-spacing:0.5px"><tspan x="-325">Salinity</tspan></text>
<text transform="translate(377.1,0) rotate(-90)" style="font-size:12.1px;letter-spacing:0.2px"><tspan x="-331.6">O</tspan><tspan style="font-size:10.5px" dy="6">2</tspan><tspan dy="-6" dx="0.6"> sat (%)</tspan></text>
<g style="font-weight:bold;font-size:16px">
<text x="49.5" y="22.3">a.</text>
<text x="414.5" y="24.1">b.</text>
<text x="49.5" y="375.6">c.</text>
<text x="414" y="373.7">d.</text>
</g>
<path d="M248.8 16.9H265.7" stroke="#0072BD" stroke-width="1.5"/>
<path d="M248.8 31.4H265.7" stroke="#FF0000" stroke-width="1.5"/>
<text x="267.7" y="21.1" style="font-size:11.4px">Pre-trial</text>
<text x="267.7" y="35.6" style="font-size:11.4px">Post-trial</text>
</svg>
</body></html>
